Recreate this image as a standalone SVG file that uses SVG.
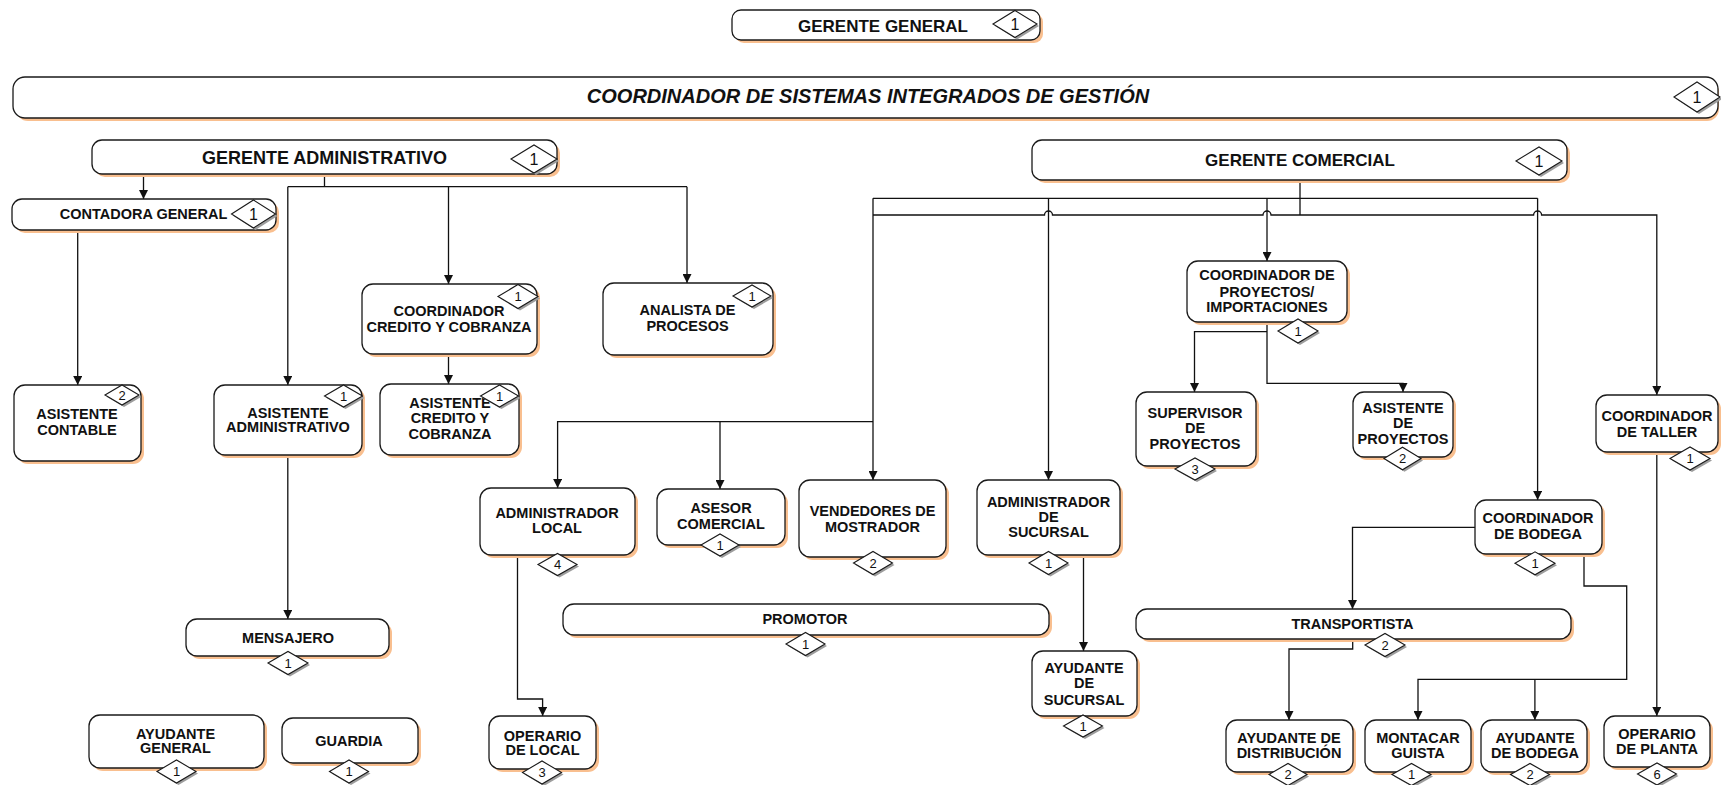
<svg xmlns="http://www.w3.org/2000/svg" width="1721" height="785" viewBox="0 0 1721 785">
<defs>
<marker id="arr" viewBox="0 0 10 10" refX="10" refY="5" markerWidth="9" markerHeight="9" markerUnits="userSpaceOnUse" orient="auto">
<path d="M0,0 L10,5 L0,10 z" fill="#111"/>
</marker>
</defs>
<style>
.box{fill:#fff;stroke:#1a1a1a;stroke-width:1.3}
.sh{fill:#F9BF8F}
.dia{fill:#fff;stroke:#1a1a1a;stroke-width:1.1}
.dsh{fill:#9d9d9d}
.t{font-family:"Liberation Sans",Arial,sans-serif;font-weight:bold;font-size:14.5px;text-anchor:middle;fill:#111}
.h{font-size:17px}
.h2{font-size:18px}
.i{font-size:20px;font-style:italic}
.d{font-family:"Liberation Sans",Arial,sans-serif;font-size:13px;text-anchor:middle;fill:#111}
.dl{font-size:16px}
.c{fill:none;stroke:#111;stroke-width:1.3}
.a{marker-end:url(#arr)}
</style>
<rect width="1721" height="785" fill="#fff"/>

<g id="connectors">
<path class="c a" d="M143.5,174 V199"/>
<path class="c" d="M324.5,174 V186.7 M287.8,186.7 H687"/>
<path class="c a" d="M287.8,186.7 V385"/>
<path class="c a" d="M448.5,186.7 V284"/>
<path class="c a" d="M687,186.7 V283"/>
<path class="c a" d="M77.7,230 V385"/>
<path class="c a" d="M448.5,354 V384"/>
<path class="c a" d="M287.8,455 V619"/>
<path class="c" d="M1300,180 V215 M873,198.3 H1537.6"/>
<path class="c a" d="M873,215 H1044.5 a4,4 0 0 1 8,0 H1263 a4,4 0 0 1 8,0 H1533.6 a4,4 0 0 1 8,0 H1656.8 V395"/>
<path class="c a" d="M873,198.3 V480"/>
<path class="c a" d="M873,421.7 H557.6 V488"/>
<path class="c a" d="M720,421.7 V489"/>
<path class="c a" d="M1048.5,198.3 V480"/>
<path class="c a" d="M1267,198.3 V261"/>
<path class="c a" d="M1537.6,198.3 V500"/>
<path class="c a" d="M1267,322 V383.3 H1403 V392"/>
<path class="c a" d="M1267,331.7 H1194.5 V392"/>
<path class="c a" d="M517.5,555 V699 H542.6 V716"/>
<path class="c a" d="M1083.5,555 V651"/>
<path class="c a" d="M1475,527.3 H1352.5 V609"/>
<path class="c a" d="M1584,554 V586 H1626.7 V679.3 H1418 V720"/>
<path class="c a" d="M1534.9,679.3 V720"/>
<path class="c a" d="M1352.7,639 V649 H1289 V720"/>
<path class="c a" d="M1656.8,452 V716"/>
</g>

<g id="gerente-general">
<rect class="sh" x="735" y="13" width="308" height="30" rx="9"/>
<rect class="box" x="732" y="10" width="308" height="30" rx="9"/>
<text class="t h" x="883" y="31.5">GERENTE GENERAL</text>
<polygon class="dsh" points="995,26 1017,12.5 1039,26 1017,39.5"/>
<polygon class="dia" points="993,24 1015,10.5 1037,24 1015,37.5"/>
<text class="d dl" x="1015" y="29.6">1</text>
</g>

<g id="coordinador-sig">
<rect class="sh" x="16" y="80" width="1703" height="41" rx="12"/>
<rect class="box" x="13" y="77" width="1705" height="41" rx="12"/>
<text class="t i" x="868" y="103">COORDINADOR DE SISTEMAS INTEGRADOS DE GESTIÓN</text>
<polygon class="dsh" points="1676,99 1699,84 1722,99 1699,114"/>
<polygon class="dia" points="1674,97 1697,82 1720,97 1697,112"/>
<text class="d dl" x="1697" y="102.6">1</text>
</g>

<g id="gerente-administrativo">
<rect class="sh" x="95" y="143" width="465" height="34" rx="10"/>
<rect class="box" x="92" y="140" width="465" height="34" rx="10"/>
<text class="t h2" x="324.5" y="163.5">GERENTE ADMINISTRATIVO</text>
<polygon class="dsh" points="513,161 536,147 559,161 536,175"/>
<polygon class="dia" points="511,159 534,145 557,159 534,173"/>
<text class="d dl" x="534" y="164.6">1</text>
</g>

<g id="contadora-general">
<rect class="sh" x="15" y="202" width="264" height="31" rx="10"/>
<rect class="box" x="12" y="199" width="264" height="31" rx="10"/>
<text class="t" x="143.5" y="219">CONTADORA GENERAL</text>
<polygon class="dsh" points="233.5,216 255.5,202 277.5,216 255.5,230"/>
<polygon class="dia" points="231.5,214 253.5,200 275.5,214 253.5,228"/>
<text class="d dl" x="253.5" y="219.6">1</text>
</g>

<g id="asistente-contable">
<rect class="sh" x="17" y="388" width="127" height="76" rx="11"/>
<rect class="box" x="14" y="385" width="127" height="76" rx="11"/>
<text class="t" x="77" y="419">ASISTENTE</text>
<text class="t" x="77" y="435">CONTABLE</text>
<polygon class="dsh" points="107,397 124,387 141,397 124,407"/>
<polygon class="dia" points="105,395 122,385 139,395 122,405"/>
<text class="d" x="122" y="399.5">2</text>
</g>

<g id="asistente-administrativo">
<rect class="sh" x="217" y="388" width="148" height="70" rx="11"/>
<rect class="box" x="214" y="385" width="148" height="70" rx="11"/>
<text class="t" x="288" y="417.7">ASISTENTE</text>
<text class="t" x="288" y="432.3">ADMINISTRATIVO</text>
<polygon class="dsh" points="326.5,398 345.5,387 364.5,398 345.5,409"/>
<polygon class="dia" points="324.5,396 343.5,385 362.5,396 343.5,407"/>
<text class="d" x="343.5" y="400.5">1</text>
</g>

<g id="coordinador-credito">
<rect class="sh" x="365" y="287" width="175" height="70" rx="11"/>
<rect class="box" x="362" y="284" width="175" height="70" rx="11"/>
<text class="t" x="449" y="316">COORDINADOR</text>
<text class="t" x="449" y="331.7">CREDITO Y COBRANZA</text>
<polygon class="dsh" points="500,298.5 520,286.5 540,298.5 520,310.5"/>
<polygon class="dia" points="498,296.5 518,284.5 538,296.5 518,308.5"/>
<text class="d" x="518" y="301">1</text>
</g>

<g id="asistente-credito">
<rect class="sh" x="383" y="387" width="139" height="71" rx="11"/>
<rect class="box" x="380" y="384" width="139" height="71" rx="11"/>
<text class="t" x="450" y="408.3">ASISTENTE</text>
<text class="t" x="450" y="423.3">CREDITO Y</text>
<text class="t" x="450" y="439">COBRANZA</text>
<polygon class="dsh" points="482.5,398 501.5,387 520.5,398 501.5,409"/>
<polygon class="dia" points="480.5,396 499.5,385 518.5,396 499.5,407"/>
<text class="d" x="499.5" y="400.5">1</text>
</g>

<g id="analista-procesos">
<rect class="sh" x="606" y="286" width="170" height="72" rx="11"/>
<rect class="box" x="603" y="283" width="170" height="72" rx="11"/>
<text class="t" x="687.5" y="315">ANALISTA DE</text>
<text class="t" x="687.5" y="331">PROCESOS</text>
<polygon class="dsh" points="735,298 754,287 773,298 754,309"/>
<polygon class="dia" points="733,296 752,285 771,296 752,307"/>
<text class="d" x="752" y="300.5">1</text>
</g>

<g id="gerente-comercial">
<rect class="sh" x="1035" y="143" width="535" height="40" rx="10"/>
<rect class="box" x="1032" y="140" width="535" height="40" rx="10"/>
<text class="t h" x="1300" y="166">GERENTE COMERCIAL</text>
<polygon class="dsh" points="1518,163 1541,149 1564,163 1541,177"/>
<polygon class="dia" points="1516,161 1539,147 1562,161 1539,175"/>
<text class="d dl" x="1539" y="166.6">1</text>
</g>

<g id="administrador-local">
<rect class="sh" x="483" y="491" width="155" height="67" rx="11"/>
<rect class="box" x="480" y="488" width="155" height="67" rx="11"/>
<text class="t" x="557" y="518.3">ADMINISTRADOR</text>
<text class="t" x="557" y="533.3">LOCAL</text>
<polygon class="dsh" points="540,566.5 559.5,555.5 579,566.5 559.5,577.5"/>
<polygon class="dia" points="538,564.5 557.5,553.5 577,564.5 557.5,575.5"/>
<text class="d" x="557.5" y="569">4</text>
</g>

<g id="asesor-comercial">
<rect class="sh" x="660" y="492" width="128" height="56" rx="11"/>
<rect class="box" x="657" y="489" width="128" height="56" rx="11"/>
<text class="t" x="721" y="513.3">ASESOR</text>
<text class="t" x="721" y="529.3">COMERCIAL</text>
<polygon class="dsh" points="703,547 722,536 741,547 722,558"/>
<polygon class="dia" points="701,545 720,534 739,545 720,556"/>
<text class="d" x="720" y="549.5">1</text>
</g>

<g id="vendedores-mostrador">
<rect class="sh" x="802" y="483" width="147" height="77" rx="11"/>
<rect class="box" x="799" y="480" width="147" height="77" rx="11"/>
<text class="t" x="872.5" y="515.7">VENDEDORES DE</text>
<text class="t" x="872.5" y="531.7">MOSTRADOR</text>
<polygon class="dsh" points="855.5,565 875,553.5 894.5,565 875,576.5"/>
<polygon class="dia" points="853.5,563 873,551.5 892.5,563 873,574.5"/>
<text class="d" x="873" y="567.5">2</text>
</g>

<g id="administrador-sucursal">
<rect class="sh" x="980" y="483" width="143" height="75" rx="11"/>
<rect class="box" x="977" y="480" width="143" height="75" rx="11"/>
<text class="t" x="1048.5" y="506.7">ADMINISTRADOR</text>
<text class="t" x="1048.5" y="521.7">DE</text>
<text class="t" x="1048.5" y="537.3">SUCURSAL</text>
<polygon class="dsh" points="1031,565 1050.5,553.5 1070,565 1050.5,576.5"/>
<polygon class="dia" points="1029,563 1048.5,551.5 1068,563 1048.5,574.5"/>
<text class="d" x="1048.5" y="567.5">1</text>
</g>

<g id="ayudante-sucursal">
<rect class="sh" x="1035" y="654" width="105" height="65" rx="11"/>
<rect class="box" x="1032" y="651" width="105" height="65" rx="11"/>
<text class="t" x="1084" y="673.3">AYUDANTE</text>
<text class="t" x="1084" y="688.3">DE</text>
<text class="t" x="1084" y="705">SUCURSAL</text>
<polygon class="dsh" points="1065.5,728 1085,717 1104.5,728 1085,739"/>
<polygon class="dia" points="1063.5,726 1083,715 1102.5,726 1083,737"/>
<text class="d" x="1083" y="730.5">1</text>
</g>

<g id="promotor">
<rect class="sh" x="566" y="607" width="486" height="31" rx="11"/>
<rect class="box" x="563" y="604" width="486" height="31" rx="11"/>
<text class="t" x="805" y="623.5">PROMOTOR</text>
<polygon class="dsh" points="788,646 807.5,634.5 827,646 807.5,657.5"/>
<polygon class="dia" points="786,644 805.5,632.5 825,644 805.5,655.5"/>
<text class="d" x="805.5" y="648.5">1</text>
</g>

<g id="operario-local">
<rect class="sh" x="492" y="719" width="107" height="53" rx="11"/>
<rect class="box" x="489" y="716" width="107" height="53" rx="11"/>
<text class="t" x="542.5" y="740.7">OPERARIO</text>
<text class="t" x="542.5" y="754.7">DE LOCAL</text>
<polygon class="dsh" points="524.5,774.5 544,763 563.5,774.5 544,786"/>
<polygon class="dia" points="522.5,772.5 542,761 561.5,772.5 542,784"/>
<text class="d" x="542" y="777">3</text>
</g>

<g id="mensajero">
<rect class="sh" x="189" y="622" width="203" height="37" rx="11"/>
<rect class="box" x="186" y="619" width="203" height="37" rx="11"/>
<text class="t" x="288" y="642.7">MENSAJERO</text>
<polygon class="dsh" points="270,665 290,653.5 310,665 290,676.5"/>
<polygon class="dia" points="268,663 288,651.5 308,663 288,674.5"/>
<text class="d" x="288" y="667.5">1</text>
</g>

<g id="ayudante-general">
<rect class="sh" x="92" y="718" width="175" height="53" rx="11"/>
<rect class="box" x="89" y="715" width="175" height="53" rx="11"/>
<text class="t" x="175.5" y="738.7">AYUDANTE</text>
<text class="t" x="175.5" y="753.3">GENERAL</text>
<polygon class="dsh" points="159,773.5 178.5,762 198,773.5 178.5,785"/>
<polygon class="dia" points="157,771.5 176.5,760 196,771.5 176.5,783"/>
<text class="d" x="176.5" y="776">1</text>
</g>

<g id="guardia">
<rect class="sh" x="285" y="721" width="136" height="45" rx="11"/>
<rect class="box" x="282" y="718" width="136" height="45" rx="11"/>
<text class="t" x="349" y="745.7">GUARDIA</text>
<polygon class="dsh" points="331.5,773.5 351,762 370.5,773.5 351,785"/>
<polygon class="dia" points="329.5,771.5 349,760 368.5,771.5 349,783"/>
<text class="d" x="349" y="776">1</text>
</g>

<g id="coordinador-proyectos">
<rect class="sh" x="1190" y="264" width="160" height="61" rx="11"/>
<rect class="box" x="1187" y="261" width="160" height="61" rx="11"/>
<text class="t" x="1267" y="280">COORDINADOR DE</text>
<text class="t" x="1267" y="296.7">PROYECTOS/</text>
<text class="t" x="1267" y="312.3">IMPORTACIONES</text>
<polygon class="dsh" points="1280,333 1300,321 1320,333 1300,345"/>
<polygon class="dia" points="1278,331 1298,319 1318,331 1298,343"/>
<text class="d" x="1298" y="335.5">1</text>
</g>

<g id="supervisor-proyectos">
<rect class="sh" x="1139" y="395" width="120" height="74" rx="11"/>
<rect class="box" x="1136" y="392" width="120" height="74" rx="11"/>
<text class="t" x="1195" y="417.7">SUPERVISOR</text>
<text class="t" x="1195" y="433.3">DE</text>
<text class="t" x="1195" y="449.3">PROYECTOS</text>
<polygon class="dsh" points="1177,471 1197,460 1217,471 1197,482"/>
<polygon class="dia" points="1175,469 1195,458 1215,469 1195,480"/>
<text class="d" x="1195" y="473.5">3</text>
</g>

<g id="asistente-proyectos">
<rect class="sh" x="1356" y="395" width="100" height="65" rx="11"/>
<rect class="box" x="1353" y="392" width="100" height="65" rx="11"/>
<text class="t" x="1403" y="413.3">ASISTENTE</text>
<text class="t" x="1403" y="428.3">DE</text>
<text class="t" x="1403" y="444.3">PROYECTOS</text>
<polygon class="dsh" points="1386,460.5 1404.5,449.2 1423,460.5 1404.5,471.8"/>
<polygon class="dia" points="1384,458.5 1402.5,447.2 1421,458.5 1402.5,469.8"/>
<text class="d" x="1402.5" y="463">2</text>
</g>

<g id="coordinador-taller">
<rect class="sh" x="1599" y="398" width="122" height="57" rx="11"/>
<rect class="box" x="1596" y="395" width="122" height="57" rx="11"/>
<text class="t" x="1657" y="420.7">COORDINADOR</text>
<text class="t" x="1657" y="436.7">DE TALLER</text>
<polygon class="dsh" points="1672,460.5 1692,449 1712,460.5 1692,472"/>
<polygon class="dia" points="1670,458.5 1690,447 1710,458.5 1690,470"/>
<text class="d" x="1690" y="463">1</text>
</g>

<g id="coordinador-bodega">
<rect class="sh" x="1478" y="503" width="127" height="54" rx="11"/>
<rect class="box" x="1475" y="500" width="127" height="54" rx="11"/>
<text class="t" x="1538" y="523.3">COORDINADOR</text>
<text class="t" x="1538" y="539.3">DE BODEGA</text>
<polygon class="dsh" points="1517,565.3 1537,553.8 1557,565.3 1537,576.8"/>
<polygon class="dia" points="1515,563.3 1535,551.8 1555,563.3 1535,574.8"/>
<text class="d" x="1535" y="567.8">1</text>
</g>

<g id="transportista">
<rect class="sh" x="1139" y="612" width="435" height="30" rx="11"/>
<rect class="box" x="1136" y="609" width="435" height="30" rx="11"/>
<text class="t" x="1352.5" y="629">TRANSPORTISTA</text>
<polygon class="dsh" points="1367,647 1387,635.5 1407,647 1387,658.5"/>
<polygon class="dia" points="1365,645 1385,633.5 1405,645 1385,656.5"/>
<text class="d" x="1385" y="649.5">2</text>
</g>

<g id="ayudante-distribucion">
<rect class="sh" x="1229" y="723" width="127" height="52" rx="11"/>
<rect class="box" x="1226" y="720" width="127" height="52" rx="11"/>
<text class="t" x="1289" y="742.7">AYUDANTE DE</text>
<text class="t" x="1289" y="757.7">DISTRIBUCIÓN</text>
<polygon class="dsh" points="1271,776.5 1290,765.5 1309,776.5 1290,787.5"/>
<polygon class="dia" points="1269,774.5 1288,763.5 1307,774.5 1288,785.5"/>
<text class="d" x="1288" y="779">2</text>
</g>

<g id="montacarguista">
<rect class="sh" x="1368" y="723" width="106" height="52" rx="11"/>
<rect class="box" x="1365" y="720" width="106" height="52" rx="11"/>
<text class="t" x="1418" y="742.7">MONTACAR</text>
<text class="t" x="1418" y="757.7">GUISTA</text>
<polygon class="dsh" points="1394,776.5 1413.5,765.5 1433,776.5 1413.5,787.5"/>
<polygon class="dia" points="1392,774.5 1411.5,763.5 1431,774.5 1411.5,785.5"/>
<text class="d" x="1411.5" y="779">1</text>
</g>

<g id="ayudante-bodega">
<rect class="sh" x="1484" y="723" width="106" height="52" rx="11"/>
<rect class="box" x="1481" y="720" width="106" height="52" rx="11"/>
<text class="t" x="1535" y="742.7">AYUDANTE</text>
<text class="t" x="1535" y="757.7">DE BODEGA</text>
<polygon class="dsh" points="1512.5,776.5 1532,765.5 1551.5,776.5 1532,787.5"/>
<polygon class="dia" points="1510.5,774.5 1530,763.5 1549.5,774.5 1530,785.5"/>
<text class="d" x="1530" y="779">2</text>
</g>

<g id="operario-planta">
<rect class="sh" x="1607" y="719" width="106" height="51" rx="11"/>
<rect class="box" x="1604" y="716" width="106" height="51" rx="11"/>
<text class="t" x="1657" y="739">OPERARIO</text>
<text class="t" x="1657" y="754.3">DE PLANTA</text>
<polygon class="dsh" points="1639.5,776 1659,765 1678.5,776 1659,787"/>
<polygon class="dia" points="1637.5,774 1657,763 1676.5,774 1657,785"/>
<text class="d" x="1657" y="778.5">6</text>
</g>
</svg>
